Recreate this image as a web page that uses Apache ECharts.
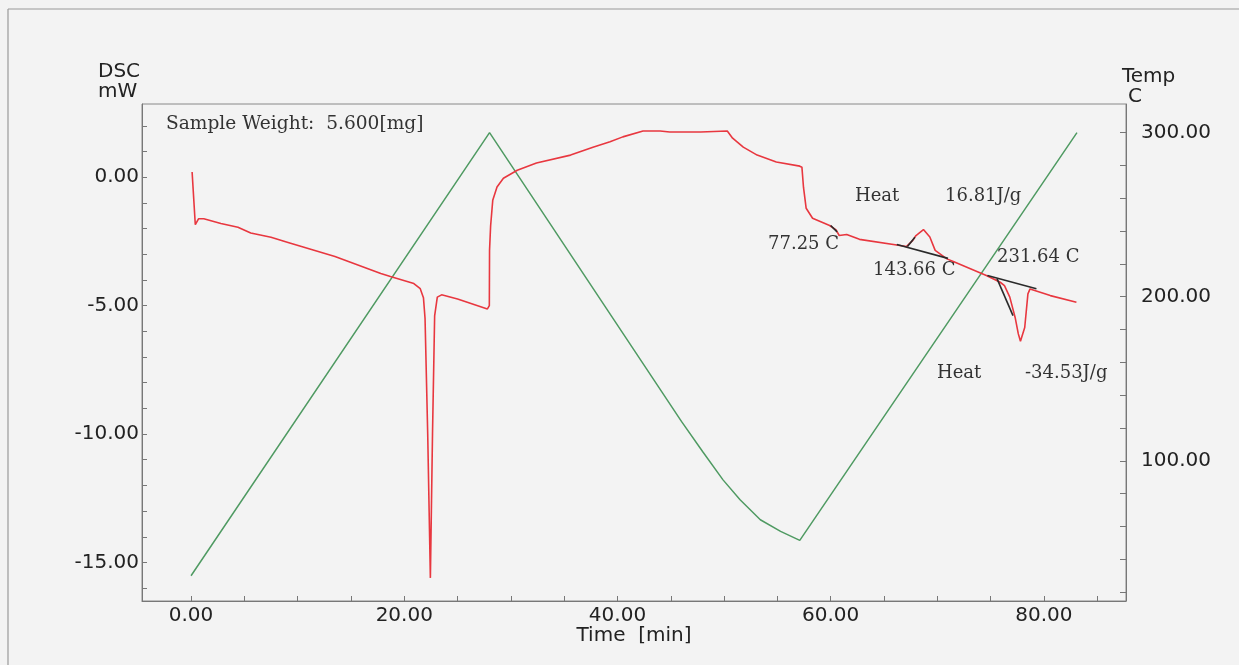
<!DOCTYPE html>
<html>
<head>
<meta charset="utf-8">
<script src="https://cdn.jsdelivr.net/npm/echarts@6/dist/echarts.min.js"></script>
<style>
html,body{margin:0;padding:0;background:#f3f3f3;}
#chart{width:1239px;height:665px;}
</style>
</head>
<body>
<div id="chart"></div>
<script>
// ---- data (time in min, DSC in mW, temperature in C) ----
var dscCurve = [
  [0.1, 0.2], [0.4, -1.85], [0.7, -1.62], [1.2, -1.62], [2.8, -1.80], [4.4, -1.95],
  [5.6, -2.17], [7.5, -2.34], [9.1, -2.54], [13.5, -3.09], [17.8, -3.75], [18.7, -3.87],
  [20.9, -4.14], [21.5, -4.34], [21.8, -4.69], [21.95, -5.5], [22.2, -10.0], [22.45, -15.6],
  [22.65, -10.0], [22.85, -5.4], [23.1, -4.67], [23.5, -4.58], [25.0, -4.74], [27.8, -5.13],
  [27.98, -5.0], [28.0, -2.85], [28.1, -1.9], [28.3, -0.9], [28.7, -0.38], [29.3, -0.04],
  [30.6, 0.27], [32.4, 0.55], [35.6, 0.86], [37.7, 1.17], [39.3, 1.38], [40.5, 1.57],
  [42.4, 1.80], [44.0, 1.80], [44.9, 1.76], [47.8, 1.76], [50.3, 1.80], [50.8, 1.52],
  [51.8, 1.17], [53.1, 0.86], [54.9, 0.59], [57.1, 0.43], [57.3, 0.39], [57.45, -0.4],
  [57.7, -1.21], [58.3, -1.60], [59.9, -1.88], [60.5, -2.05], [60.8, -2.27], [61.5, -2.23],
  [62.7, -2.42], [66.5, -2.66], [67.1, -2.70], [67.7, -2.46], [68.0, -2.27], [68.7, -2.04],
  [69.3, -2.33], [69.8, -2.85], [70.9, -3.18], [71.5, -3.28], [74.6, -3.83], [75.9, -4.09],
  [76.3, -4.22], [76.8, -4.67], [77.3, -5.46], [77.6, -6.10], [77.8, -6.39], [78.2, -5.85],
  [78.5, -4.54], [78.7, -4.35], [80.6, -4.61], [83.05, -4.87]
];
var tempCurve = [
  [0, 30], [28, 300], [46, 124], [48, 105.5], [49.9, 88.4], [51.5, 76.3],
  [53.4, 64.1], [55.3, 57], [57.1, 51.5], [83.1, 300]
];
// analysis construction lines (time, DSC)
var onsetTangent77 = [[60.0, -1.88], [60.6, -2.13]];
var exoBaseline = [[66.2, -2.62], [71.0, -3.16]];
var exoTangent = [[67.2, -2.70], [67.9, -2.34]];
var endoBaseline = [[74.7, -3.83], [79.3, -4.34]];
var endoTangent = [[75.6, -3.95], [77.1, -5.39]];

// axis ticks and labels
var xTicks = [0, 5, 10, 15, 20, 25, 30, 35, 40, 45, 50, 55, 60, 65, 70, 75, 80, 85];
var xLabels = [0, 20, 40, 60, 80];
var dscTicks = [-16, -15, -14, -13, -12, -11, -10, -9, -8, -7, -6, -5, -4, -3, -2, -1, 0, 1, 2];
var dscLabels = [-15, -10, -5, 0];
var tempTicks = [20, 40, 60, 80, 100, 120, 140, 160, 180, 200, 220, 240, 260, 280, 300];
var tempLabels = [100, 200, 300];

// texts
var sampleText = 'Sample Weight:  5.600[mg]';
var annotations = [
  {text: 'Heat', x: 855, y: 196},
  {text: '16.81J/g', x: 945, y: 196},
  {text: '77.25 C', x: 768, y: 244},
  {text: '143.66 C', x: 873, y: 270},
  {text: '231.64 C', x: 997, y: 257},
  {text: 'Heat', x: 937, y: 373},
  {text: '-34.53J/g', x: 1025, y: 373}
];

var chart = echarts.init(document.getElementById('chart'), null, {renderer: 'canvas'});
var sansFont = 'DejaVu Sans';
var serifFont = 'DejaVu Serif';
var fmt = function (v) { return Number(v).toFixed(2); };

function blackLine(data) {
  return {
    type: 'line', xAxisIndex: 0, yAxisIndex: 0, data: data, symbol: 'none',
    lineStyle: {color: '#2a2a2a', width: 1.6}, z: 4, silent: true
  };
}

var graphics = [
  {type: 'line', shape: {x1: 8, y1: 9, x2: 1239, y2: 9}, style: {stroke: '#9a9a9a', lineWidth: 1.2}},
  {type: 'line', shape: {x1: 8, y1: 9, x2: 8, y2: 665}, style: {stroke: '#9a9a9a', lineWidth: 1.2}},
  {type: 'text', style: {x: 98, y: 72, text: 'DSC', font: '20px "' + sansFont + '"', fill: '#222', verticalAlign: 'middle'}},
  {type: 'text', style: {x: 98, y: 92, text: 'mW', font: '20px "' + sansFont + '"', fill: '#222', verticalAlign: 'middle'}},
  {type: 'text', style: {x: 1122, y: 77, text: 'Temp', font: '20px "' + sansFont + '"', fill: '#222', verticalAlign: 'middle'}},
  {type: 'text', style: {x: 1128, y: 97, text: 'C', font: '20px "' + sansFont + '"', fill: '#222', verticalAlign: 'middle'}},
  {type: 'text', style: {x: 634, y: 636, text: 'Time  [min]', font: '20px "' + sansFont + '"', fill: '#222', align: 'center', verticalAlign: 'middle'}},
  {type: 'text', style: {x: 166, y: 124, text: sampleText, font: '18.6px "' + serifFont + '"', fill: '#333', verticalAlign: 'middle'}}
];
annotations.forEach(function (a) {
  graphics.push({type: 'text', style: {x: a.x, y: a.y, text: a.text, font: '18px "' + serifFont + '"', fill: '#333', verticalAlign: 'middle'}});
});

chart.setOption({
  animation: false,
  backgroundColor: '#f3f3f3',
  grid: {left: 142, right: 113, top: 104, bottom: 64, show: true, borderColor: '#888', borderWidth: 1, backgroundColor: 'transparent'},
  xAxis: {
    type: 'value', min: -4.6, max: 87.7,
    axisLine: {show: true, onZero: false, lineStyle: {color: '#777'}},
    axisTick: {show: true, inside: true, length: 5, customValues: xTicks, lineStyle: {color: '#777'}},
    axisLabel: {customValues: xLabels, formatter: fmt, margin: 5, color: '#222', fontFamily: sansFont, fontSize: 20},
    splitLine: {show: false}
  },
  yAxis: [
    {
      type: 'value', position: 'left', min: -16.5, max: 2.85,
      axisLine: {show: true, onZero: false, lineStyle: {color: '#777'}},
      axisTick: {show: true, inside: true, length: 5, customValues: dscTicks, lineStyle: {color: '#777'}},
      axisLabel: {customValues: dscLabels, formatter: fmt, margin: 3, color: '#222', fontFamily: sansFont, fontSize: 20},
      splitLine: {show: false}
    },
    {
      type: 'value', position: 'right', min: 14.6, max: 317.4,
      axisLine: {show: true, onZero: false, lineStyle: {color: '#777'}},
      axisTick: {show: true, inside: true, length: 6, customValues: tempTicks, lineStyle: {color: '#777'}},
      axisLabel: {customValues: tempLabels, formatter: fmt, margin: 15, color: '#222', fontFamily: sansFont, fontSize: 20},
      splitLine: {show: false}
    }
  ],
  series: [
    {
      name: 'Temp', type: 'line', xAxisIndex: 0, yAxisIndex: 1, data: tempCurve, symbol: 'none',
      lineStyle: {color: '#4f9a62', width: 1.5}, z: 2, silent: true
    },
    {
      name: 'DSC', type: 'line', xAxisIndex: 0, yAxisIndex: 0, data: dscCurve, symbol: 'none',
      lineStyle: {color: '#e8373f', width: 1.6}, z: 3, silent: true
    },
    blackLine(onsetTangent77),
    blackLine(exoBaseline),
    blackLine(exoTangent),
    blackLine(endoBaseline),
    blackLine(endoTangent)
  ],
  graphic: graphics
});
</script>
</body>
</html>
